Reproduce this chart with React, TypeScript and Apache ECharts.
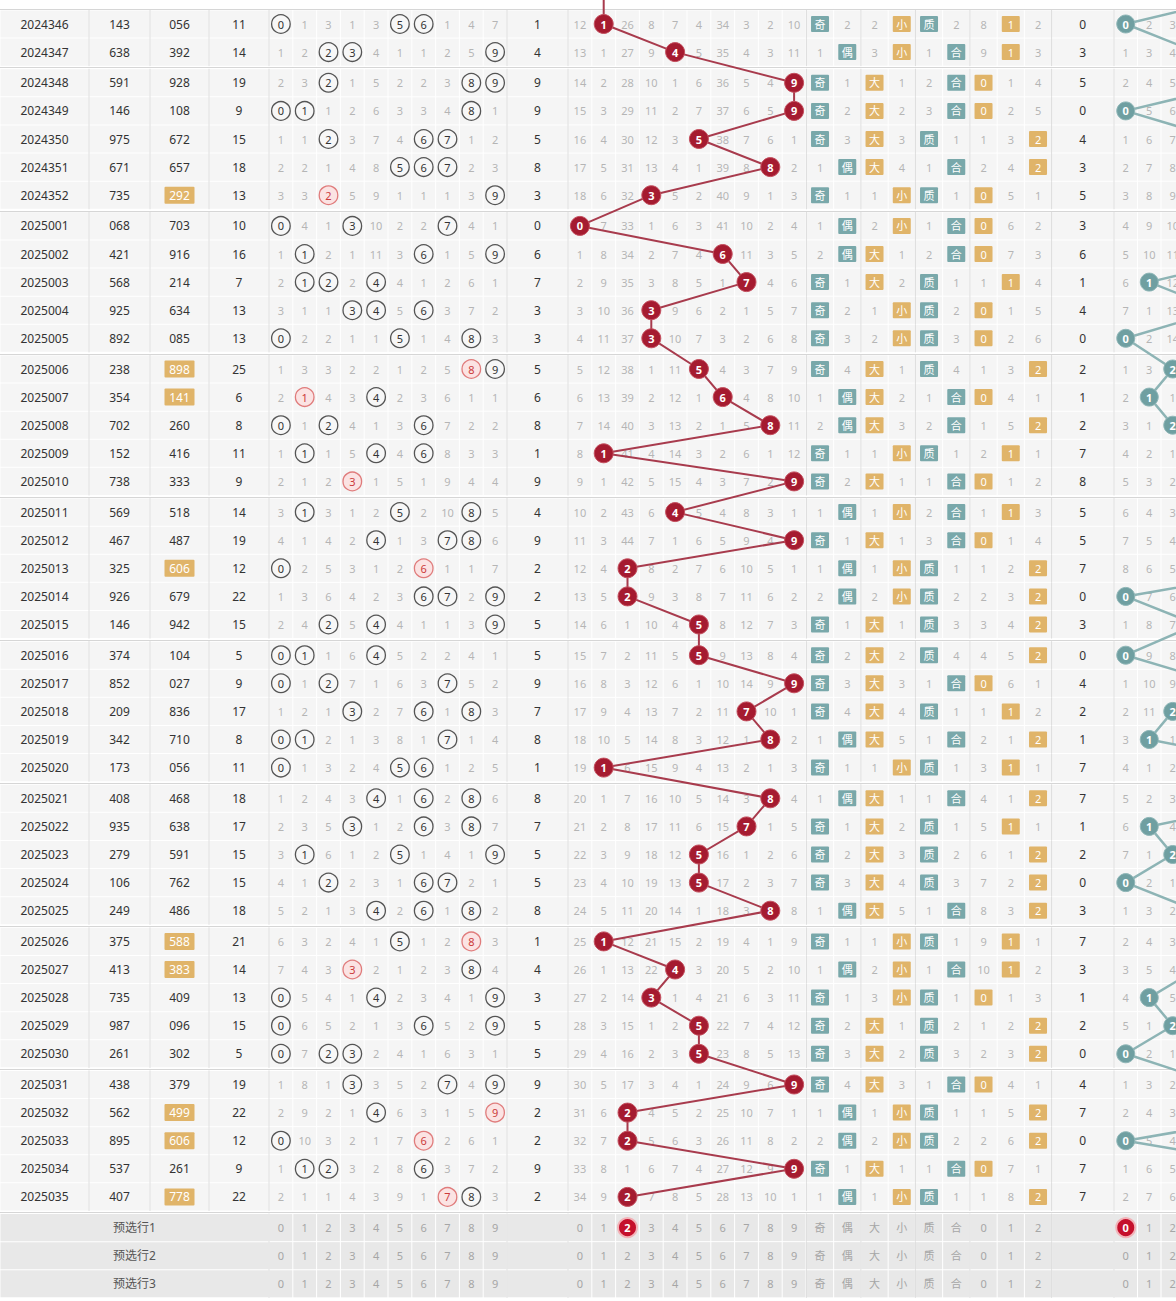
import React, { useEffect, useRef } from "react";
import * as echarts from "echarts";

// ---------------- DATA ----------------
const periods = [
  "2024346", "2024347", "2024348", "2024349", "2024350", "2024351", "2024352",
  "2025001", "2025002", "2025003", "2025004", "2025005", "2025006", "2025007",
  "2025008", "2025009", "2025010", "2025011", "2025012", "2025013", "2025014",
  "2025015", "2025016", "2025017", "2025018", "2025019", "2025020", "2025021",
  "2025022", "2025023", "2025024", "2025025", "2025026", "2025027", "2025028",
  "2025029", "2025030", "2025031", "2025032", "2025033", "2025034", "2025035",
];
const groupSizes = [2, 5, 5, 5, 5, 5, 5, 5, 5];
const testNums = [
  "143", "638", "591", "146", "975", "671", "735", "068", "421", "568", "925", "892", "238", "354",
  "702", "152", "738", "569", "467", "325", "926", "146", "374", "852", "209", "342", "173", "408",
  "935", "279", "106", "249", "375", "413", "735", "987", "261", "438", "562", "895", "537", "407",
];
const drawNums = [
  "056", "392", "928", "108", "672", "657", "292", "703", "916", "214", "634", "085", "898", "141",
  "260", "416", "333", "518", "487", "606", "679", "942", "104", "027", "836", "710", "056", "468",
  "638", "591", "762", "486", "588", "383", "409", "096", "302", "379", "499", "606", "261", "778",
];
const sums = [11, 14, 19, 9, 15, 18, 13, 10, 16, 7, 13, 13, 25, 6, 8, 11, 9, 14, 19, 12, 22, 15, 5, 9, 17, 8, 11, 18, 17, 15, 15, 18, 21, 14, 13, 15, 5, 19, 22, 12, 9, 22];
const distMiss = [
  [0, 1, 3, 1, 3, 0, 0, 1, 4, 7], [1, 2, 0, 0, 4, 1, 1, 2, 5, 0], [2, 3, 0, 1, 5, 2, 2, 3, 0, 0],
  [0, 0, 1, 2, 6, 3, 3, 4, 0, 1], [1, 1, 0, 3, 7, 4, 0, 0, 1, 2], [2, 2, 1, 4, 8, 0, 0, 0, 2, 3],
  [3, 3, 0, 5, 9, 1, 1, 1, 3, 0], [0, 4, 1, 0, 10, 2, 2, 0, 4, 1], [1, 0, 2, 1, 11, 3, 0, 1, 5, 0],
  [2, 0, 0, 2, 0, 4, 1, 2, 6, 1], [3, 1, 1, 0, 0, 5, 0, 3, 7, 2], [0, 2, 2, 1, 1, 0, 1, 4, 0, 3],
  [1, 3, 3, 2, 2, 1, 2, 5, 0, 0], [2, 0, 4, 3, 0, 2, 3, 6, 1, 1], [0, 1, 0, 4, 1, 3, 0, 7, 2, 2],
  [1, 0, 1, 5, 0, 4, 0, 8, 3, 3], [2, 1, 2, 0, 1, 5, 1, 9, 4, 4], [3, 0, 3, 1, 2, 0, 2, 10, 0, 5],
  [4, 1, 4, 2, 0, 1, 3, 0, 0, 6], [0, 2, 5, 3, 1, 2, 0, 1, 1, 7], [1, 3, 6, 4, 2, 3, 0, 0, 2, 0],
  [2, 4, 0, 5, 0, 4, 1, 1, 3, 0], [0, 0, 1, 6, 0, 5, 2, 2, 4, 1], [0, 1, 0, 7, 1, 6, 3, 0, 5, 2],
  [1, 2, 1, 0, 2, 7, 0, 1, 0, 3], [0, 0, 2, 1, 3, 8, 1, 0, 1, 4], [0, 1, 3, 2, 4, 0, 0, 1, 2, 5],
  [1, 2, 4, 3, 0, 1, 0, 2, 0, 6], [2, 3, 5, 0, 1, 2, 0, 3, 0, 7], [3, 0, 6, 1, 2, 0, 1, 4, 1, 0],
  [4, 1, 0, 2, 3, 1, 0, 0, 2, 1], [5, 2, 1, 3, 0, 2, 0, 1, 0, 2], [6, 3, 2, 4, 1, 0, 1, 2, 0, 3],
  [7, 4, 3, 0, 2, 1, 2, 3, 0, 4], [0, 5, 4, 1, 0, 2, 3, 4, 1, 0], [0, 6, 5, 2, 1, 3, 0, 5, 2, 0],
  [0, 7, 0, 0, 2, 4, 1, 6, 3, 1], [1, 8, 1, 0, 3, 5, 2, 0, 4, 0], [2, 9, 2, 1, 0, 6, 3, 1, 5, 0],
  [0, 10, 3, 2, 1, 7, 0, 2, 6, 1], [1, 0, 0, 3, 2, 8, 0, 3, 7, 2], [2, 1, 1, 4, 3, 9, 1, 0, 0, 3],
];
const singleVals = [1, 4, 9, 9, 5, 8, 3, 0, 6, 7, 3, 3, 5, 6, 8, 1, 9, 4, 9, 2, 2, 5, 5, 9, 7, 8, 1, 8, 7, 5, 5, 8, 1, 4, 3, 5, 5, 9, 2, 2, 9, 2];
const prevSingle = 1;
const redMiss = [
  [12, 0, 26, 8, 7, 4, 34, 3, 2, 10], [13, 1, 27, 9, 0, 5, 35, 4, 3, 11], [14, 2, 28, 10, 1, 6, 36, 5, 4, 0],
  [15, 3, 29, 11, 2, 7, 37, 6, 5, 0], [16, 4, 30, 12, 3, 0, 38, 7, 6, 1], [17, 5, 31, 13, 4, 1, 39, 8, 0, 2],
  [18, 6, 32, 0, 5, 2, 40, 9, 1, 3], [0, 7, 33, 1, 6, 3, 41, 10, 2, 4], [1, 8, 34, 2, 7, 4, 0, 11, 3, 5],
  [2, 9, 35, 3, 8, 5, 1, 0, 4, 6], [3, 10, 36, 0, 9, 6, 2, 1, 5, 7], [4, 11, 37, 0, 10, 7, 3, 2, 6, 8],
  [5, 12, 38, 1, 11, 0, 4, 3, 7, 9], [6, 13, 39, 2, 12, 1, 0, 4, 8, 10], [7, 14, 40, 3, 13, 2, 1, 5, 0, 11],
  [8, 0, 41, 4, 14, 3, 2, 6, 1, 12], [9, 1, 42, 5, 15, 4, 3, 7, 2, 0], [10, 2, 43, 6, 0, 5, 4, 8, 3, 1],
  [11, 3, 44, 7, 1, 6, 5, 9, 4, 0], [12, 4, 0, 8, 2, 7, 6, 10, 5, 1], [13, 5, 0, 9, 3, 8, 7, 11, 6, 2],
  [14, 6, 1, 10, 4, 0, 8, 12, 7, 3], [15, 7, 2, 11, 5, 0, 9, 13, 8, 4], [16, 8, 3, 12, 6, 1, 10, 14, 9, 0],
  [17, 9, 4, 13, 7, 2, 11, 0, 10, 1], [18, 10, 5, 14, 8, 3, 12, 1, 0, 2], [19, 0, 6, 15, 9, 4, 13, 2, 1, 3],
  [20, 1, 7, 16, 10, 5, 14, 3, 0, 4], [21, 2, 8, 17, 11, 6, 15, 0, 1, 5], [22, 3, 9, 18, 12, 0, 16, 1, 2, 6],
  [23, 4, 10, 19, 13, 0, 17, 2, 3, 7], [24, 5, 11, 20, 14, 1, 18, 3, 0, 8], [25, 0, 12, 21, 15, 2, 19, 4, 1, 9],
  [26, 1, 13, 22, 0, 3, 20, 5, 2, 10], [27, 2, 14, 0, 1, 4, 21, 6, 3, 11], [28, 3, 15, 1, 2, 0, 22, 7, 4, 12],
  [29, 4, 16, 2, 3, 0, 23, 8, 5, 13], [30, 5, 17, 3, 4, 1, 24, 9, 6, 0], [31, 6, 0, 4, 5, 2, 25, 10, 7, 1],
  [32, 7, 0, 5, 6, 3, 26, 11, 8, 2], [33, 8, 1, 6, 7, 4, 27, 12, 9, 0], [34, 9, 0, 7, 8, 5, 28, 13, 10, 1],
];
const shapeLabels = ["奇", "偶", "大", "小", "质", "合", "0", "1", "2"];
const shapeMiss = [
  [0, 2, 2, 0, 0, 2, 8, 0, 2], [1, 0, 3, 0, 1, 0, 9, 0, 3], [0, 1, 0, 1, 2, 0, 0, 1, 4],
  [0, 2, 0, 2, 3, 0, 0, 2, 5], [0, 3, 0, 3, 0, 1, 1, 3, 0], [1, 0, 0, 4, 1, 0, 2, 4, 0],
  [0, 1, 1, 0, 0, 1, 0, 5, 1], [1, 0, 2, 0, 1, 0, 0, 6, 2], [2, 0, 0, 1, 2, 0, 0, 7, 3],
  [0, 1, 0, 2, 0, 1, 1, 0, 4], [0, 2, 1, 0, 0, 2, 0, 1, 5], [0, 3, 2, 0, 0, 3, 0, 2, 6],
  [0, 4, 0, 1, 0, 4, 1, 3, 0], [1, 0, 0, 2, 1, 0, 0, 4, 1], [2, 0, 0, 3, 2, 0, 1, 5, 0],
  [0, 1, 1, 0, 0, 1, 2, 0, 1], [0, 2, 0, 1, 1, 0, 0, 1, 2], [1, 0, 1, 0, 2, 0, 1, 0, 3],
  [0, 1, 0, 1, 3, 0, 0, 1, 4], [1, 0, 1, 0, 0, 1, 1, 2, 0], [2, 0, 2, 0, 0, 2, 2, 3, 0],
  [0, 1, 0, 1, 0, 3, 3, 4, 0], [0, 2, 0, 2, 0, 4, 4, 5, 0], [0, 3, 0, 3, 1, 0, 0, 6, 1],
  [0, 4, 0, 4, 0, 1, 1, 0, 2], [1, 0, 0, 5, 1, 0, 2, 1, 0], [0, 1, 1, 0, 0, 1, 3, 0, 1],
  [1, 0, 0, 1, 1, 0, 4, 1, 0], [0, 1, 0, 2, 0, 1, 5, 0, 1], [0, 2, 0, 3, 0, 2, 6, 1, 0],
  [0, 3, 0, 4, 0, 3, 7, 2, 0], [1, 0, 0, 5, 1, 0, 8, 3, 0], [0, 1, 1, 0, 0, 1, 9, 0, 1],
  [1, 0, 2, 0, 1, 0, 10, 0, 2], [0, 1, 3, 0, 0, 1, 0, 1, 3], [0, 2, 0, 1, 0, 2, 1, 2, 0],
  [0, 3, 0, 2, 0, 3, 2, 3, 0], [0, 4, 0, 3, 1, 0, 0, 4, 1], [1, 0, 1, 0, 0, 1, 1, 5, 0],
  [2, 0, 2, 0, 0, 2, 2, 6, 0], [0, 1, 0, 1, 1, 0, 0, 7, 1], [1, 0, 1, 0, 0, 1, 1, 8, 0],
];
const spanVals = [0, 3, 5, 0, 4, 3, 5, 3, 6, 1, 4, 0, 2, 1, 2, 7, 8, 5, 5, 7, 0, 3, 0, 4, 2, 1, 7, 7, 1, 2, 0, 3, 7, 3, 1, 2, 0, 4, 7, 0, 7, 7];
const prevSpan = 5;
const tealMiss = [
  [0, 2, 3], [1, 3, 4], [2, 4, 5], [0, 5, 6], [1, 6, 7], [2, 7, 8], [3, 8, 9], [4, 9, 10], [5, 10, 11],
  [6, 0, 12], [7, 1, 13], [0, 2, 14], [1, 3, 0], [2, 0, 1], [3, 1, 0], [4, 2, 1], [5, 3, 2], [6, 4, 3],
  [7, 5, 4], [8, 6, 5], [0, 7, 6], [1, 8, 7], [0, 9, 8], [1, 10, 9], [2, 11, 0], [3, 0, 1], [4, 1, 2],
  [5, 2, 3], [6, 0, 4], [7, 1, 0], [0, 2, 1], [1, 3, 2], [2, 4, 3], [3, 5, 4], [4, 0, 5], [5, 1, 0],
  [0, 2, 1], [1, 3, 2], [2, 4, 3], [0, 5, 4], [1, 6, 5], [2, 7, 6],
];
const previewLabels = ["预选行1", "预选行2", "预选行3"];
const previewSingle = 2;
const previewSpan = 0;

// ---------------- LAYOUT / STYLE ----------------
const PAGE_W = 1176;
const PAGE_H = 1301;
const ROW_PX = 28.1;
const FIRST_ROW_PX = 24;
const GROUP_GAP = 2.6 / ROW_PX;
const FONT = '"Noto Sans", "Noto Sans CJK SC", sans-serif';

const L = {
  period: [0, 89],
  test: [89, 150],
  draw: [150, 209],
  sum: [209, 269],
  distX0: 269,
  distW: 23.8,
  single: [507, 568],
  redX0: 568,
  redW: 23.8,
  shapeX0: 806.4,
  shapeW: 27.25,
  val: [1051.6, 1114],
  tealX0: 1114,
  tealW: 23.5,
};
const mid = (r: number[]) => (r[0] + r[1]) / 2;
const distX = (k: number) => L.distX0 + L.distW * (k + 0.5);
const redX = (k: number) => L.redX0 + L.redW * (k + 0.5);
const shapeX = (k: number) => L.shapeX0 + L.shapeW * (k + 0.5);
const tealX = (k: number) => L.tealX0 + L.tealW * (k + 0.5);

const C = {
  cell: "#f5f5f5",
  preCell: "#e8e8e8",
  divider: "#dcdcdc",
  text: "#333333",
  miss: "#b5b5b5",
  pre: "#a6a6a6",
  teal: "#79a8aa",
  orange: "#e0b469",
  red: "#a51b30",
  redLine: "#a83b4d",
  tealBall: "#6f9fa1",
  tealLine: "#8db4b5",
};

const PRIMES = [1, 2, 3, 5, 7];
const shapeHits = (v: number) => [v % 2 === 1 ? 0 : 1, v >= 5 ? 2 : 3, PRIMES.includes(v) ? 4 : 5, 6 + (v % 3)];
const shapeIsTeal = [true, true, false, false, true, true, false, false, false];

const groupIndex: number[] = [];
groupSizes.forEach((n, g) => {
  for (let i = 0; i < n; i++) groupIndex.push(g);
});
const rowY = (i: number) => i + groupIndex[i] * GROUP_GAP;
const previewY = (j: number) => periods.length + j + groupSizes.length * GROUP_GAP;

function buildOption() {
  // rows meta for background
  const rowsMeta: any[] = [];
  periods.forEach((_, i) =>
    rowsMeta.push({ y: rowY(i), pre: false, groupStart: i === 0 || groupIndex[i] !== groupIndex[i - 1] })
  );
  previewLabels.forEach((_, j) => rowsMeta.push({ y: previewY(j), pre: true, groupStart: j === 0 }));

  // text / mark cells
  const cells: any[] = [];
  const add = (x: number, y: number, text: string, kind: string) => cells.push({ x, y, text, kind });

  periods.forEach((p, i) => {
    const y = rowY(i);
    add(mid(L.period), y, p, "text");
    add(mid(L.test), y, testNums[i], "text");
    const digits = drawNums[i].split("").map(Number);
    const distinct = new Set(digits).size;
    add(mid(L.draw), y, drawNums[i], distinct === 2 ? "hl" : "text");
    add(mid(L.sum), y, String(sums[i]), "text");
    for (let k = 0; k < 10; k++) {
      const cnt = digits.filter((d) => d === k).length;
      if (cnt >= 2) add(distX(k), y, String(k), "circRed");
      else if (cnt === 1) add(distX(k), y, String(k), "circ");
      else add(distX(k), y, String(distMiss[i][k]), "miss");
    }
    add(mid(L.single), y, String(singleVals[i]), "text");
    for (let k = 0; k < 10; k++) {
      if (k !== singleVals[i]) add(redX(k), y, String(redMiss[i][k]), "miss");
    }
    const hits = shapeHits(singleVals[i]);
    for (let k = 0; k < 9; k++) {
      if (hits.includes(k)) add(shapeX(k), y, shapeLabels[k], shapeIsTeal[k] ? "boxTeal" : "boxOrange");
      else add(shapeX(k), y, String(shapeMiss[i][k]), "miss");
    }
    add(mid(L.val), y, String(spanVals[i]), "text");
    for (let k = 0; k < 3; k++) {
      if (k !== spanVals[i]) add(tealX(k), y, String(tealMiss[i][k]), "miss");
    }
  });

  previewLabels.forEach((lab, j) => {
    const y = previewY(j);
    add((L.period[0] + L.sum[1]) / 2, y, lab, "preLabel");
    for (let k = 0; k < 10; k++) add(distX(k), y, String(k), "pre");
    for (let k = 0; k < 10; k++) add(redX(k), y, String(k), j === 0 && k === previewSingle ? "preBall" : "pre");
    for (let k = 0; k < 9; k++) add(shapeX(k), y, shapeLabels[k], "pre");
    for (let k = 0; k < 10; k++) add(tealX(k), y, String(k), j === 0 && k === previewSpan ? "preBall" : "pre");
  });

  const bgRender = (params: any, api: any) => {
    const m = rowsMeta[api.value(2)];
    const yv = api.value(1);
    const c = api.coord([0, yv]);
    const h = api.size([0, 1])[1];
    const top = c[1] - h / 2;
    const X = (x: number) => api.coord([x, yv])[0];
    const fill = m.pre ? C.preCell : C.cell;
    const children: any[] = [];
    const cell = (x0: number, x1: number) =>
      children.push({
        type: "rect",
        shape: { x: X(x0) + 0.5, y: top + 0.5, width: X(x1) - X(x0) - 1, height: h - 1 },
        style: { fill },
      });
    if (m.pre) cell(L.period[0], L.sum[1]);
    else {
      cell(L.period[0], L.period[1]);
      cell(L.test[0], L.test[1]);
      cell(L.draw[0], L.draw[1]);
      cell(L.sum[0], L.sum[1]);
    }
    for (let k = 0; k < 10; k++) cell(L.distX0 + k * L.distW, L.distX0 + (k + 1) * L.distW);
    cell(L.single[0], L.single[1]);
    for (let k = 0; k < 10; k++) cell(L.redX0 + k * L.redW, L.redX0 + (k + 1) * L.redW);
    for (let k = 0; k < 9; k++) cell(L.shapeX0 + k * L.shapeW, L.shapeX0 + (k + 1) * L.shapeW);
    cell(L.val[0], L.val[1]);
    for (let k = 0; k < 10; k++) cell(L.tealX0 + k * L.tealW, L.tealX0 + (k + 1) * L.tealW);

    const dividers = m.pre
      ? [L.sum[1], L.single[0], L.single[1], L.shapeX0, L.shapeX0 + 2 * L.shapeW, L.shapeX0 + 4 * L.shapeW, L.shapeX0 + 6 * L.shapeW, L.val[0], L.val[1]]
      : [L.period[1], L.test[1], L.draw[1], L.sum[1], L.single[0], L.single[1], L.shapeX0, L.shapeX0 + 2 * L.shapeW, L.shapeX0 + 4 * L.shapeW, L.shapeX0 + 6 * L.shapeW, L.val[0], L.val[1]];
    dividers.forEach((x) =>
      children.push({
        type: "line",
        shape: { x1: X(x), y1: top, x2: X(x), y2: top + h },
        style: { stroke: C.divider, lineWidth: 1 },
      })
    );
    if (m.groupStart) {
      const gy = Math.round(top - 1.3) + 0.5;
      children.push({
        type: "line",
        shape: { x1: X(0), y1: gy, x2: X(PAGE_W), y2: gy },
        style: { stroke: "#d6d6d6", lineWidth: 1 },
      });
    }
    return { type: "group", children };
  };

  const textRender = (params: any, api: any) => {
    const c = cells[api.value(2)];
    const p = api.coord([api.value(0), api.value(1)]);
    const txt = (text: string, fill: string, size: number, weight = "normal") => ({
      type: "text",
      x: p[0],
      y: p[1],
      style: { text, fill, font: `${weight} ${size}px ${FONT}`, align: "center", verticalAlign: "middle" },
    });
    switch (c.kind) {
      case "text":
        return txt(c.text, C.text, 12);
      case "miss":
        return txt(c.text, C.miss, 11);
      case "pre":
        return txt(c.text, C.pre, 11);
      case "preLabel":
        return txt(c.text, "#555555", 12);
      case "circ":
        return {
          type: "group",
          children: [
            { type: "circle", shape: { cx: p[0], cy: p[1], r: 9.3 }, style: { fill: "#f7f7f7", stroke: "#555555", lineWidth: 1.3 } },
            txt(c.text, "#333333", 11),
          ],
        };
      case "circRed":
        return {
          type: "group",
          children: [
            { type: "circle", shape: { cx: p[0], cy: p[1], r: 9.3 }, style: { fill: "#fbe3e3", stroke: "#e07c7c", lineWidth: 1.3 } },
            txt(c.text, "#cc3b3b", 11),
          ],
        };
      case "hl":
        return {
          type: "group",
          children: [
            { type: "rect", shape: { x: p[0] - 15, y: p[1] - 8.5, width: 30, height: 17, r: 1 }, style: { fill: C.orange } },
            txt(c.text, "#ffffff", 12),
          ],
        };
      case "boxTeal":
      case "boxOrange":
        return {
          type: "group",
          children: [
            {
              type: "rect",
              shape: { x: p[0] - 9, y: p[1] - 8, width: 18, height: 16, r: 1 },
              style: { fill: c.kind === "boxTeal" ? C.teal : C.orange },
            },
            txt(c.text, "#ffffff", 11),
          ],
        };
      case "preBall":
        return {
          type: "group",
          children: [
            { type: "circle", shape: { cx: p[0], cy: p[1], r: 9.5 }, style: { fill: "#c5102c", stroke: "#f2b3b8", lineWidth: 2 } },
            txt(c.text, "#ffffff", 11, "bold"),
          ],
        };
    }
    return null;
  };

  const redData: any[] = [
    { value: [redX(prevSingle), -1, prevSingle], symbol: "none", label: { show: false } },
    ...singleVals.map((d, i) => [redX(d), rowY(i), d]),
  ];
  const tealData: any[] = [
    { value: [tealX(prevSpan), -1, prevSpan], symbol: "none", label: { show: false } },
    ...spanVals.map((d, i) => [tealX(d), rowY(i), d]),
  ];

  const ballLabel = {
    show: true,
    position: "inside",
    formatter: (p: any) => String(p.value[2]),
    color: "#ffffff",
    fontWeight: "bold",
    fontSize: 11,
    fontFamily: FONT,
  };

  return {
    animation: false,
    backgroundColor: "#ffffff",
    grid: { left: 0, right: 0, top: 0, bottom: 0, containLabel: false },
    xAxis: { type: "value", min: 0, max: PAGE_W, show: false },
    yAxis: {
      type: "value",
      min: -FIRST_ROW_PX / ROW_PX,
      max: (PAGE_H - FIRST_ROW_PX) / ROW_PX,
      inverse: true,
      show: false,
    },
    series: [
      {
        type: "custom",
        z: 1,
        silent: true,
        progressive: 0,
        renderItem: bgRender,
        encode: { x: 0, y: 1 },
        data: rowsMeta.map((m, i) => [0, m.y, i]),
      },
      {
        type: "custom",
        z: 2,
        silent: true,
        progressive: 0,
        renderItem: textRender,
        encode: { x: 0, y: 1 },
        data: cells.map((c, i) => [c.x, c.y, i]),
      },
      {
        type: "line",
        z: 5,
        silent: true,
        clip: true,
        symbol: "circle",
        symbolSize: 19,
        lineStyle: { color: C.redLine, width: 2 },
        itemStyle: { color: C.red, borderColor: "#c4505f", borderWidth: 1 },
        label: ballLabel,
        data: redData,
      },
      {
        type: "line",
        z: 5,
        silent: true,
        clip: true,
        symbol: "circle",
        symbolSize: 18,
        lineStyle: { color: C.tealLine, width: 2.5 },
        itemStyle: { color: C.tealBall, borderColor: "#8fb6b7", borderWidth: 1 },
        label: ballLabel,
        data: tealData,
      },
    ],
  };
}

export default function App() {
  const ref = useRef<HTMLDivElement>(null);
  useEffect(() => {
    document.body.style.margin = "0";
    document.body.style.background = "#ffffff";
    const chart = echarts.init(ref.current as HTMLDivElement, null, { renderer: "svg" });
    chart.setOption(buildOption() as any);
    return () => chart.dispose();
  }, []);
  return <div ref={ref} style={{ width: PAGE_W, height: PAGE_H }} />;
}
